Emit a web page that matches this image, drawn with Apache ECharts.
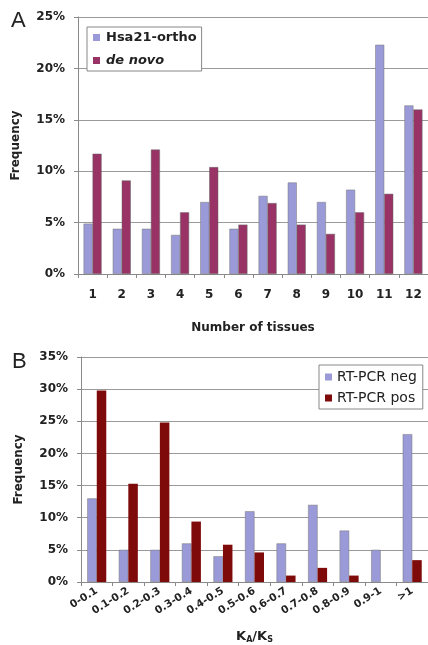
<!DOCTYPE html>
<html>
<head>
<meta charset="utf-8">
<script src="https://cdn.jsdelivr.net/npm/echarts@6/dist/echarts.min.js"></script>
<style>
html,body{margin:0;padding:0;background:#fff;}
#c{width:428px;height:645px;}
</style>
</head>
<body>
<div id="c"></div>
<script>
// Panel A data
var tissueCategories = ['1','2','3','4','5','6','7','8','9','10','11','12'];
var hsa21Ortho = [4.9, 4.4, 4.4, 3.8, 7.0, 4.4, 7.6, 8.9, 7.0, 8.2, 22.3, 16.4];
var deNovo = [11.7, 9.1, 12.1, 6.0, 10.4, 4.8, 6.9, 4.8, 3.9, 6.0, 7.8, 16.0];
var yTicksA = [0, 5, 10, 15, 20, 25];

// Panel B data
var kaksCategories = ['0-0.1','0.1-0.2','0.2-0.3','0.3-0.4','0.4-0.5','0.5-0.6','0.6-0.7','0.7-0.8','0.8-0.9','0.9-1','>1'];
var rtpcrNeg = [13, 5, 5, 6, 4, 11, 6, 12, 8, 5, 23];
var rtpcrPos = [29.8, 15.3, 24.8, 9.4, 5.8, 4.6, 1.0, 2.2, 1.0, 0, 3.4];
var yTicksB = [0, 5, 10, 15, 20, 25, 30, 35];

var chart = echarts.init(document.getElementById('c'), null, {renderer: 'canvas'});
var FONT = 'DejaVu Sans';
var textColor = '#222';
var gridColor = '#9a9a9a';
var axisColor = '#8a8a8a';

function yAxisCfg(gridIndex, ticks) {
  return {
    type: 'value', gridIndex: gridIndex,
    min: ticks[0], max: ticks[ticks.length - 1], interval: ticks[1] - ticks[0],
    name: 'Frequency', nameLocation: 'middle', nameGap: 56, nameRotate: 90,
    nameTextStyle: {fontFamily: FONT, fontWeight: 'bold', fontSize: 12, color: textColor},
    axisLine: {show: true, lineStyle: {color: axisColor, width: 1}},
    axisTick: {show: true, length: 4, lineStyle: {color: axisColor}},
    axisLabel: {formatter: '{value}%', fontFamily: FONT, fontWeight: 'bold', fontSize: 12, color: textColor, margin: 13},
    splitLine: {show: true, lineStyle: {color: gridColor, width: 1}}
  };
}

var option = {
  backgroundColor: '#fff',
  animation: false,
  graphic: [
    {type: 'text', left: 11, top: 10, style: {text: 'A', font: '22px "Liberation Sans"', fill: '#222'}},
    {type: 'text', left: 12, top: 351, style: {text: 'B', font: '22px "Liberation Sans"', fill: '#222'}}
  ],
  grid: [
    {left: 78, top: 17, width: 353, height: 257},
    {left: 81, top: 357, width: 354, height: 226}
  ],
  legend: [
    {
      left: 87, top: 27, orient: 'vertical',
      itemWidth: 7, itemHeight: 7, itemGap: 10,
      padding: [4, 5, 4, 6],
      borderColor: '#888', borderWidth: 1, backgroundColor: '#fff',
      icon: 'rect',
      itemStyle: {borderWidth: 0},
      textStyle: {fontFamily: FONT, fontWeight: 'bold', fontSize: 13, color: textColor, padding: [0, 0, 0, 1]},
      data: [
        {name: 'Hsa21-ortho'},
        {name: 'de novo', textStyle: {fontStyle: 'italic'}}
      ]
    },
    {
      left: 319, top: 365, orient: 'vertical',
      itemWidth: 7, itemHeight: 7, itemGap: 7,
      padding: [5, 6, 4, 6],
      borderColor: '#888', borderWidth: 1, backgroundColor: '#fff',
      icon: 'rect',
      itemStyle: {borderWidth: 0},
      textStyle: {fontFamily: FONT, fontSize: 14, color: textColor},
      data: ['RT-PCR neg', 'RT-PCR pos']
    }
  ],
  xAxis: [
    {
      type: 'category', gridIndex: 0, data: tissueCategories,
      name: 'Number of tissues', nameLocation: 'middle', nameGap: 48,
      nameTextStyle: {fontFamily: FONT, fontWeight: 'bold', fontSize: 12, color: textColor},
      axisLine: {show: true, lineStyle: {color: axisColor}},
      axisTick: {show: true, length: 4, lineStyle: {color: axisColor}},
      axisLabel: {interval: 0, fontFamily: FONT, fontWeight: 'bold', fontSize: 12, color: textColor, margin: 15}
    },
    {
      type: 'category', gridIndex: 1, data: kaksCategories,
      name: '{k|K}{s|A}{k|/K}{s|S}', nameLocation: 'middle', nameGap: 48,
      nameTextStyle: {
        rich: {
          k: {fontFamily: FONT, fontWeight: 'bold', fontSize: 13, color: textColor},
          s: {fontFamily: FONT, fontWeight: 'bold', fontSize: 8, color: textColor, verticalAlign: 'bottom', padding: [6, 0, 0, 0]}
        }
      },
      axisLine: {show: true, lineStyle: {color: axisColor}},
      axisTick: {show: true, length: 4, lineStyle: {color: axisColor}},
      axisLabel: {interval: 0, rotate: 32, fontFamily: FONT, fontWeight: 'bold', fontSize: 10.5, color: textColor, margin: 8}
    }
  ],
  yAxis: [yAxisCfg(0, yTicksA), yAxisCfg(1, yTicksB)],
  series: [
    {name: 'Hsa21-ortho', type: 'bar', xAxisIndex: 0, yAxisIndex: 0, data: hsa21Ortho,
      barWidth: 9, barGap: '0%', itemStyle: {color: '#9a9ad8', borderColor: '#777', borderWidth: 0.5}},
    {name: 'de novo', type: 'bar', xAxisIndex: 0, yAxisIndex: 0, data: deNovo,
      barWidth: 9, barGap: '0%', itemStyle: {color: '#993366', borderColor: '#666', borderWidth: 0.5}},
    {name: 'RT-PCR neg', type: 'bar', xAxisIndex: 1, yAxisIndex: 1, data: rtpcrNeg,
      barWidth: 9.5, barGap: '0%', itemStyle: {color: '#9a9ad8', borderColor: '#777', borderWidth: 0.5}},
    {name: 'RT-PCR pos', type: 'bar', xAxisIndex: 1, yAxisIndex: 1, data: rtpcrPos,
      barWidth: 9.5, barGap: '0%', itemStyle: {color: '#7f0a0a', borderWidth: 0}}
  ]
};
chart.setOption(option);
</script>
</body>
</html>
